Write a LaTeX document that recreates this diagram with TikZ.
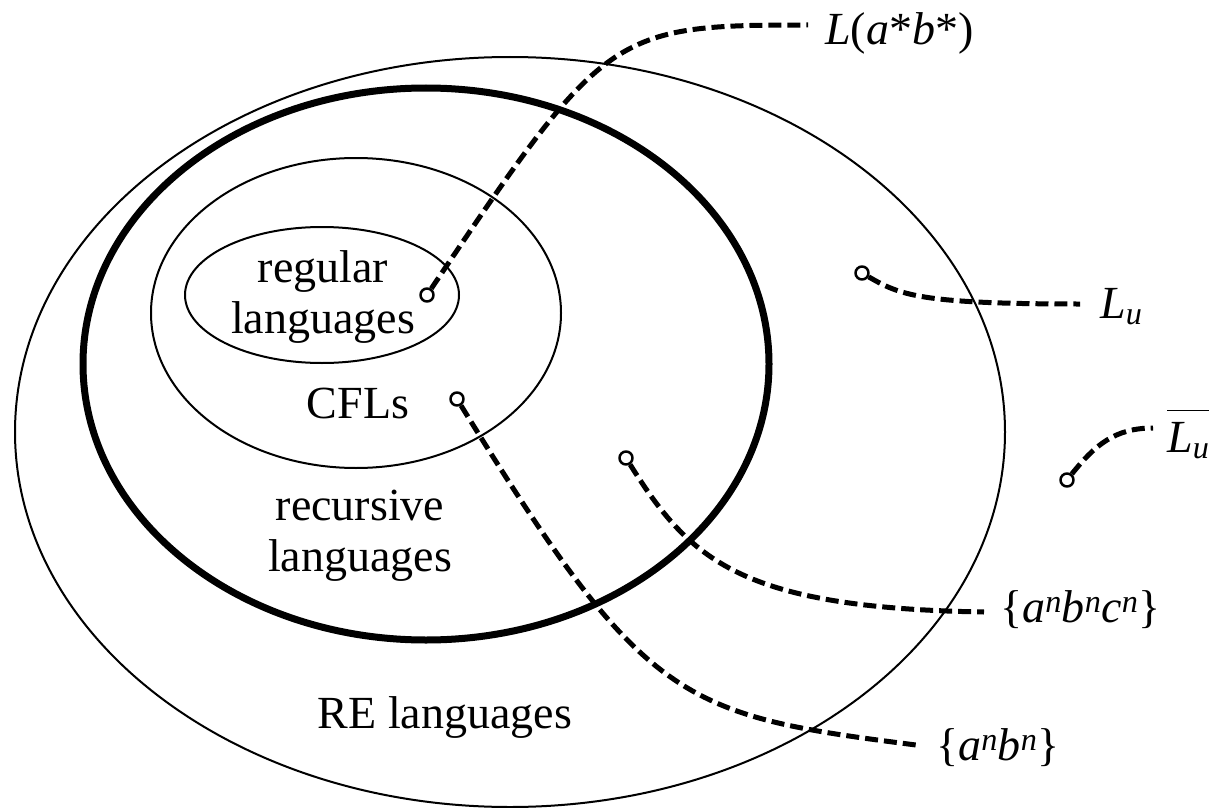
\documentclass[tikz,border=0pt]{standalone}
\usepackage{fontspec}
\setmainfont{Liberation Serif}
\tikzset{
  setline/.style={line width=2pt},
  recline/.style={line width=7pt},
  pt/.style={circle, draw, line width=2.5pt, fill=white, inner sep=0pt, minimum size=13pt},
  txt/.style={align=center, inner sep=0pt, font=\fontsize{46}{51}\selectfont},
  lab/.style={anchor=base west, inner sep=0pt, font=\fontsize{46}{51}\selectfont},
  link/.style={line width=5pt, dash pattern=on 13pt off 6pt},
}
\begin{document}
\begin{tikzpicture}[x=1pt, y=-1pt, line join=round]
\useasboundingbox (0,0) rectangle (1219,808);
% the four classes
\draw[setline] (510,432) ellipse [x radius=495, y radius=375];
\draw[recline] (426,364) ellipse [x radius=343, y radius=276];
\draw[setline] (356,313) ellipse [x radius=205, y radius=155];
\draw[setline] (322,295) ellipse [x radius=137, y radius=68];

% names of the classes
\node[txt] (treg) at (323,297) {regular\\languages};
\node[txt, anchor=base] (tcfl) at (358,418) {CFLs};
\node[txt] (trec) at (360,536) {recursive\\languages};
\node[txt, anchor=base] (tre) at (445,728) {RE languages};

% sample languages
\node[pt] (dreg) at (427,295) {};
\node[pt] (dcfl) at (457,399) {};
\node[pt] (drec) at (626,458) {};
\node[pt] (dlu) at (862,273) {};
\node[pt] (dnlu) at (1067,480) {};

\node[lab] (lreg) at (825,45) {\textit{L}(\textit{a}*\textit{b}*)};
\node[lab] (llu) at (1100,318) {\textit{L}\textsubscript{\textit{u}}};
\node[lab] (lnlu) at (1167,452) {$\overline{\hbox{\rule{0pt}{40pt}\textit{L}\textsubscript{\textit{u}}}}$};
\node[lab] (lrec) at (1000,622) {\{\textit{a}\textsuperscript{\textit{n}}\textit{b}\textsuperscript{\textit{n}}\textit{c}\textsuperscript{\textit{n}}\}};
\node[lab] (lcfl) at (936,760) {\{\textit{a}\textsuperscript{\textit{n}}\textit{b}\textsuperscript{\textit{n}}\}};

% free ends of the connectors
\coordinate (ereg) at (808,25);
\coordinate (elu) at (1080,304);
\coordinate (enlu) at (1153,428);
\coordinate (erec) at (984,612);
\coordinate (ecfl) at (916,745);

% connectors
\draw[link] (dreg) .. controls (605,30) and (612,25) .. (ereg);
\draw[link] (dlu) .. controls (900,295) and (920,304) .. (elu);
\draw[link] (dnlu) .. controls (1095,445) and (1115,428) .. (enlu);
\draw[link] (drec) .. controls (690,560) and (740,608) .. (erec);
\draw[link] (dcfl) .. controls (645,704) and (680,715) .. (ecfl);
\end{tikzpicture}
\end{document}
